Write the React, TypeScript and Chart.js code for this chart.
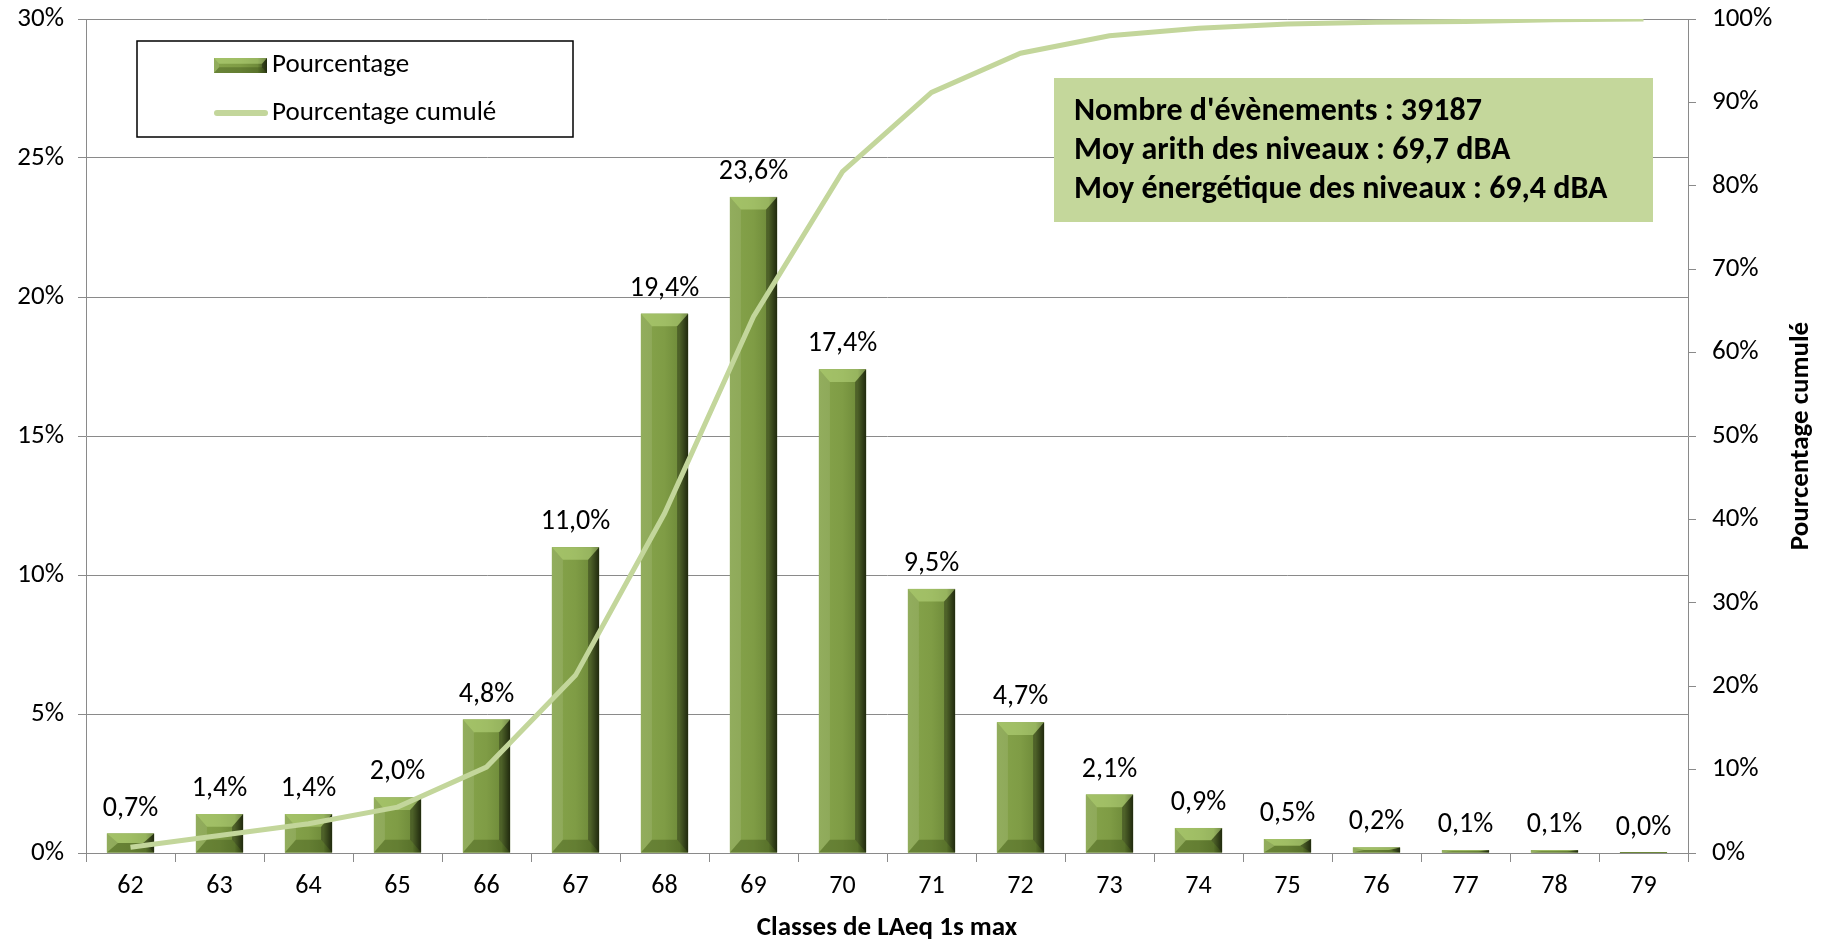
import { useEffect, useRef } from "react";
import { Chart, registerables } from "chart.js";

Chart.register(...registerables);

// ---------- data ----------
const categories = ["62", "63", "64", "65", "66", "67", "68", "69", "70", "71", "72", "73", "74", "75", "76", "77", "78", "79"];
const pourcentage = [0.7, 1.4, 1.4, 2.0, 4.8, 11.0, 19.4, 23.6, 17.4, 9.5, 4.7, 2.1, 0.9, 0.5, 0.2, 0.1, 0.1, 0.0];
const pourcentageCumule = [0.7, 2.1, 3.5, 5.5, 10.3, 21.3, 40.7, 64.3, 81.7, 91.2, 95.9, 98.0, 98.9, 99.4, 99.6, 99.7, 99.9, 100];
const leftTickMax = 30;
const leftTickStep = 5;
const rightTickMax = 100;
const rightTickStep = 10;
const seriesLabels = ["Pourcentage", "Pourcentage cumulé"];
const xTitle = "Classes de LAeq 1s max";
const y2Title = "Pourcentage cumulé";
const infoLines = [
  "Nombre d'évènements : 39187",
  "Moy arith des niveaux : 69,7 dBA",
  "Moy énergétique des niveaux : 69,4 dBA",
];

// ---------- styles ----------
const FONT = "'Liberation Sans Narrow', Carlito, Calibri, Roboto, sans-serif";
const GRID = "#8a8a8a";
const LINE_COLOR = "#c3d69b";
const BOX_FILL = "#c4d79b";

const fmt = (v: number) => v.toFixed(1).replace(".", ",") + "%";

function drawBevelBar(ctx: CanvasRenderingContext2D, left: number, top: number, right: number, bottom: number, bevel = 11) {
  const w = right - left;
  const h = bottom - top;
  if (w <= 0) return;
  if (h < 1) {
    ctx.fillStyle = "#6d8839";
    ctx.fillRect(left, bottom - 1, w, 1);
    return;
  }
  const bx = Math.min(bevel, w / 2);
  const by = Math.min(bevel * 1.15, h / 2);
  const g = ctx.createLinearGradient(left, 0, right, 0);
  g.addColorStop(0, "#86a44b");
  g.addColorStop(0.5, "#7f9c45");
  g.addColorStop(0.82, "#6f8b3a");
  g.addColorStop(1, "#2f3c15");
  ctx.save();
  ctx.fillStyle = g;
  ctx.fillRect(left, top, w, h);
  ctx.fillStyle = "rgba(255,255,255,0.10)";
  ctx.beginPath();
  ctx.moveTo(left, top);
  ctx.lineTo(left + bx, top + by);
  ctx.lineTo(left + bx, bottom - by);
  ctx.lineTo(left, bottom);
  ctx.closePath();
  ctx.fill();
  ctx.fillStyle = "rgba(0,0,0,0.30)";
  ctx.beginPath();
  ctx.moveTo(right, top);
  ctx.lineTo(right - bx, top + by);
  ctx.lineTo(right - bx, bottom - by);
  ctx.lineTo(right, bottom);
  ctx.closePath();
  ctx.fill();
  ctx.fillStyle = "rgba(200,230,140,0.45)";
  ctx.beginPath();
  ctx.moveTo(left, top);
  ctx.lineTo(right, top);
  ctx.lineTo(right - bx, top + by);
  ctx.lineTo(left + bx, top + by);
  ctx.closePath();
  ctx.fill();
  ctx.fillStyle = "rgba(40,60,10,0.30)";
  ctx.beginPath();
  ctx.moveTo(left, bottom);
  ctx.lineTo(right, bottom);
  ctx.lineTo(right - bx, bottom - by);
  ctx.lineTo(left + bx, bottom - by);
  ctx.closePath();
  ctx.fill();
  ctx.restore();
}

const bevelPlugin = {
  id: "bevelBars",
  afterDatasetDraw(chart: any, args: any) {
    const meta = args.meta;
    if (meta.type !== "bar") return;
    const ctx = chart.ctx as CanvasRenderingContext2D;
    meta.data.forEach((el: any) => {
      const p = el.getProps(["x", "y", "base", "width"], true);
      const top = Math.min(p.y, p.base);
      const bottom = Math.max(p.y, p.base);
      drawBevelBar(ctx, p.x - p.width / 2, top, p.x + p.width / 2, bottom);
    });
  },
};

const labelsPlugin = {
  id: "barLabels",
  afterDatasetsDraw(chart: any) {
    const ctx = chart.ctx as CanvasRenderingContext2D;
    chart.data.datasets.forEach((ds: any, i: number) => {
      const meta = chart.getDatasetMeta(i);
      if (meta.type !== "bar") return;
      ctx.save();
      ctx.font = `28px ${FONT}`;
      ctx.fillStyle = "#000";
      ctx.textAlign = "center";
      ctx.textBaseline = "alphabetic";
      meta.data.forEach((el: any, j: number) => {
        ctx.fillText(fmt(ds.data[j]), el.x, el.y - 18);
      });
      ctx.restore();
    });
  },
};

const decorPlugin = {
  id: "decor",
  afterDraw(chart: any) {
    const ctx = chart.ctx as CanvasRenderingContext2D;
    const ds = chart.data.datasets;
    ctx.save();
    // legend box
    ctx.fillStyle = "#fff";
    ctx.fillRect(137, 41, 436, 96);
    ctx.strokeStyle = "#000";
    ctx.lineWidth = 1.5;
    ctx.strokeRect(137, 41, 436, 96);
    const barDs = ds.find((d: any) => d.type === "bar");
    const lineDs = ds.find((d: any) => d.type === "line");
    drawBevelBar(ctx, 214, 58, 267, 73, 5);
    ctx.strokeStyle = lineDs.borderColor;
    ctx.lineWidth = 6;
    ctx.lineCap = "round";
    ctx.beginPath();
    ctx.moveTo(217, 113);
    ctx.lineTo(265, 113);
    ctx.stroke();
    ctx.fillStyle = "#000";
    ctx.font = `27px ${FONT}`;
    ctx.textAlign = "left";
    ctx.textBaseline = "middle";
    ctx.fillText(barDs.label, 272, 65);
    ctx.fillText(lineDs.label, 272, 113);

    // info box
    ctx.fillStyle = BOX_FILL;
    ctx.fillRect(1054, 78, 599, 144);
    ctx.fillStyle = "#000";
    ctx.font = `bold 32px ${FONT}`;
    infoLines.forEach((t, i) => ctx.fillText(t, 1074, 112 + i * 39));

    // right axis title
    const y1 = chart.scales.y1;
    ctx.translate(1801, (y1.top + y1.bottom) / 2);
    ctx.rotate(-Math.PI / 2);
    ctx.textAlign = "center";
    ctx.font = `bold 27px ${FONT}`;
    ctx.fillText(y2Title, 0, 0);
    ctx.restore();
  },
};

const trimPad = (s: any) => { s.paddingTop = 4; s.paddingBottom = 4; };

export default function App() {
  const ref = useRef<HTMLCanvasElement | null>(null);
  useEffect(() => {
    if (!ref.current) return;
    const chart = new Chart(ref.current, {
      type: "bar",
      data: {
        labels: categories,
        datasets: [
          {
            type: "line",
            label: seriesLabels[1],
            data: pourcentageCumule,
            yAxisID: "y1",
            borderColor: LINE_COLOR,
            borderWidth: 5,
            pointRadius: 0,
            tension: 0,
            order: 0,
          } as any,
          {
            type: "bar",
            label: seriesLabels[0],
            data: pourcentage,
            yAxisID: "y",
            backgroundColor: "#7f9c45",
            borderWidth: 0,
            barPercentage: 0.53,
            categoryPercentage: 1,
            order: 1,
          } as any,
        ],
      },
      options: {
        responsive: false,
        animation: false,
        devicePixelRatio: 1,
        layout: { padding: { top: 19, left: 0, right: 0, bottom: 0 } },
        plugins: { legend: { display: false }, tooltip: { enabled: false } },
        scales: {
          x: {
            offset: true,
            grid: { display: true, offset: true, drawOnChartArea: false, drawTicks: true, tickLength: 9, color: GRID },
            border: { display: true, color: GRID, width: 1 },
            ticks: { color: "#000", font: { family: FONT, size: 26 }, padding: 9, maxRotation: 0, autoSkip: false },
            title: { display: true, text: xTitle, color: "#000", font: { family: FONT, size: 27, weight: "bold" }, padding: { top: 0, bottom: -1 } },
            afterFit: (s: any) => { s.height = 90; },
          } as any,
          y: {
            position: "left",
            min: 0,
            max: leftTickMax,
            grid: { color: GRID, drawTicks: true, tickLength: 8 },
            border: { display: true, color: GRID },
            ticks: { stepSize: leftTickStep, color: "#000", font: { family: FONT, size: 27 }, padding: 14, callback: (v: any) => v + "%" },
            afterFit: (s: any) => { s.width = 86; trimPad(s); },
          } as any,
          y1: {
            position: "right",
            min: 0,
            max: rightTickMax,
            grid: { drawOnChartArea: false, color: GRID, drawTicks: true, tickLength: 8 },
            border: { display: true, color: GRID },
            ticks: { stepSize: rightTickStep, color: "#000", font: { family: FONT, size: 27 }, padding: 16, callback: (v: any) => v + "%" },
            afterFit: (s: any) => { s.width = 142; trimPad(s); },
          } as any,
        },
      },
      plugins: [bevelPlugin, labelsPlugin, decorPlugin],
    });
    return () => chart.destroy();
  }, []);
  return (
    <div style={{ position: "absolute", left: 0, top: 0, width: 1830, height: 943, background: "#fff" }}>
      <canvas ref={ref} width={1830} height={943} style={{ display: "block" }} />
    </div>
  );
}
